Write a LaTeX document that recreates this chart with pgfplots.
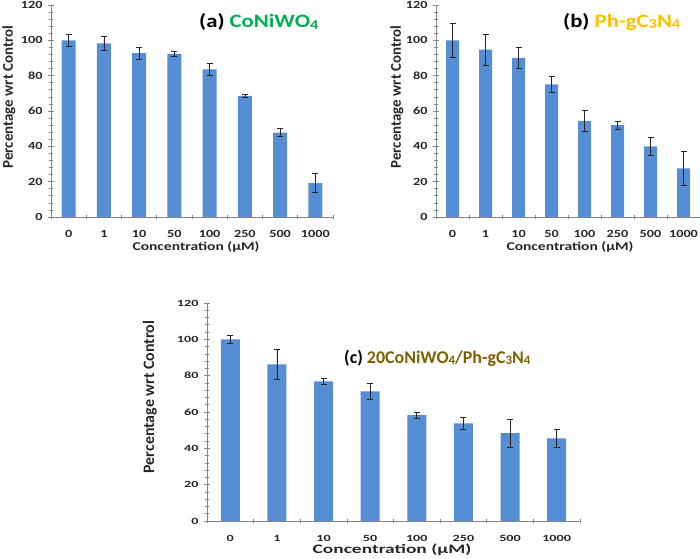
\documentclass[border=0pt]{standalone}
\usepackage{fontspec}
\setmainfont{Carlito}
\newfontfamily\fA[FakeStretch=1.3]{Carlito}
\newfontfamily\fC[FakeStretch=1.5]{Carlito}
\newfontfamily\fT[FakeStretch=1.2]{Carlito}
\usepackage{graphicx}
\usepackage{pgfplots}
\pgfplotsset{compat=1.18}
\definecolor{barblue}{HTML}{558ED5}
\definecolor{axisgray}{HTML}{868686}
\definecolor{tickcol}{HTML}{262626}
\definecolor{cgreen}{HTML}{00B050}
\definecolor{corange}{HTML}{FFC000}
\definecolor{cbrown}{HTML}{7F6000}
\newcommand\sub[1]{\raisebox{-0.08em}{\scalebox{0.72}{#1}}}

\pgfplotstableread{
x y e
0 100 3.4
1 98.3 3.8
2 92.7 3.6
3 92.3 1.6
4 83.6 3.2
5 68.5 0.7
6 47.8 2.4
7 19.2 5.4
}\dataA
\pgfplotstableread{
x y e
0 100 9.4
1 94.7 8.8
2 90.0 5.9
3 75.0 4.7
4 54.4 6.0
5 52.0 2.2
6 39.9 5.0
7 27.5 9.6
}\dataB
\pgfplotstableread{
x y e
0 100 2.1
1 86.2 8.5
2 76.9 1.7
3 71.4 4.6
4 58.3 1.7
5 53.8 3.4
6 48.4 7.7
7 45.5 5.0
}\dataC

\pgfplotsset{
  mybar/.style={
    scale only axis,
    axis x line*=bottom, axis y line*=left,
    ymin=0, ymax=120, ytick={0,20,...,120}, minor y tick num=4,
    xmin=-0.5, xmax=7.5, xtick={0,...,7},
    xticklabels={0,1,10,50,100,250,500,1000},
    minor xtick={-0.5,0.5,...,7.5},
    major x tick style={draw=none},
    tick align=center,
    major tick length=6bp, minor tick length=3.5bp,
    axis line style={draw=axisgray, line width=0.8bp},
    tick style={axisgray, line width=0.6bp},
    /pgf/number format/assume math mode=true,
    clip=false,
  },
  mydata/.style={
    ybar, fill=barblue, draw=none,
    error bars/.cd, y dir=both, y explicit,
    error bar style={line width=0.7bp, black!85},
    error mark options={rotate=90, mark size=3bp, line width=0.7bp, black!85},
  },
}

\begin{document}
\begin{tikzpicture}[x=1bp, y=1bp]
\path[use as bounding box] (0,0) rectangle (700,559);

% (a)
\begin{axis}[mybar, at={(51bp,342bp)}, anchor=south west, width=282bp, height=212bp,
  bar width=14bp,
  xticklabel style={font=\fA\bfseries\fontsize{11}{11}\selectfont, text=tickcol, anchor=center, inner sep=0pt, yshift=-14bp},
  yticklabel style={font=\fA\bfseries\fontsize{11}{11}\selectfont, text=tickcol, anchor=east, xshift=-2bp}]
\addplot[mydata] table[x=x, y=y, y error=e] {\dataA};
\end{axis}

% (b)
\begin{axis}[mybar, at={(436bp,342bp)}, anchor=south west, width=264bp, height=212bp,
  bar width=13bp,
  xticklabel style={font=\fA\bfseries\fontsize{11}{11}\selectfont, text=tickcol, anchor=center, inner sep=0pt, yshift=-14bp},
  yticklabel style={font=\fA\bfseries\fontsize{11}{11}\selectfont, text=tickcol, anchor=east, xshift=-2bp}]
\addplot[mydata] table[x=x, y=y, y error=e] {\dataB};
\end{axis}

% (c)
\begin{axis}[mybar, at={(207bp,38bp)}, anchor=south west, width=373bp, height=218bp,
  bar width=19bp,
  xticklabel style={font=\fC\bfseries\fontsize{9.5}{9.5}\selectfont, text=tickcol, anchor=center, inner sep=0pt, yshift=-14bp},
  yticklabel style={font=\fC\bfseries\fontsize{9.5}{9.5}\selectfont, text=tickcol, anchor=east, xshift=-2bp}]
\addplot[mydata] table[x=x, y=y, y error=e] {\dataC};
\end{axis}

% labels
\node[rotate=90, font=\bfseries\fontsize{15}{15}\selectfont, text=tickcol] at (9,462) {Percentage wrt Control};
\node[rotate=90, font=\bfseries\fontsize{15}{15}\selectfont, text=tickcol] at (397,462) {Percentage wrt Control};
\node[rotate=90, font=\bfseries\fontsize{16}{16}\selectfont, text=tickcol] at (150,162) {Percentage wrt Control};

\node[inner sep=0pt, font=\fA\bfseries\fontsize{12}{12}\selectfont, text=tickcol] at (196,312) {Concentration (µM)};
\node[inner sep=0pt, font=\fA\bfseries\fontsize{12}{12}\selectfont, text=tickcol] at (570,312) {Concentration (µM)};
\node[inner sep=0pt, font=\fC\bfseries\fontsize{13}{13}\selectfont, text=tickcol] at (392,9) {Concentration (µM)};

\node[anchor=west, inner sep=0pt, font=\fT\bfseries\fontsize{19}{19}\selectfont] at (199,537) {(a) \textcolor{cgreen}{CoNiWO\sub{4}}};
\node[anchor=west, inner sep=0pt, font=\fT\bfseries\fontsize{19}{19}\selectfont] at (563,537) {(b) \textcolor{corange}{Ph-gC\sub{3}N\sub{4}}};
\node[anchor=west, inner sep=0pt, font=\bfseries\fontsize{18}{18}\selectfont] at (344,201) {(c) \textcolor{cbrown}{20CoNiWO\sub{4}/Ph-gC\sub{3}N\sub{4}}};
\end{tikzpicture}
\end{document}
